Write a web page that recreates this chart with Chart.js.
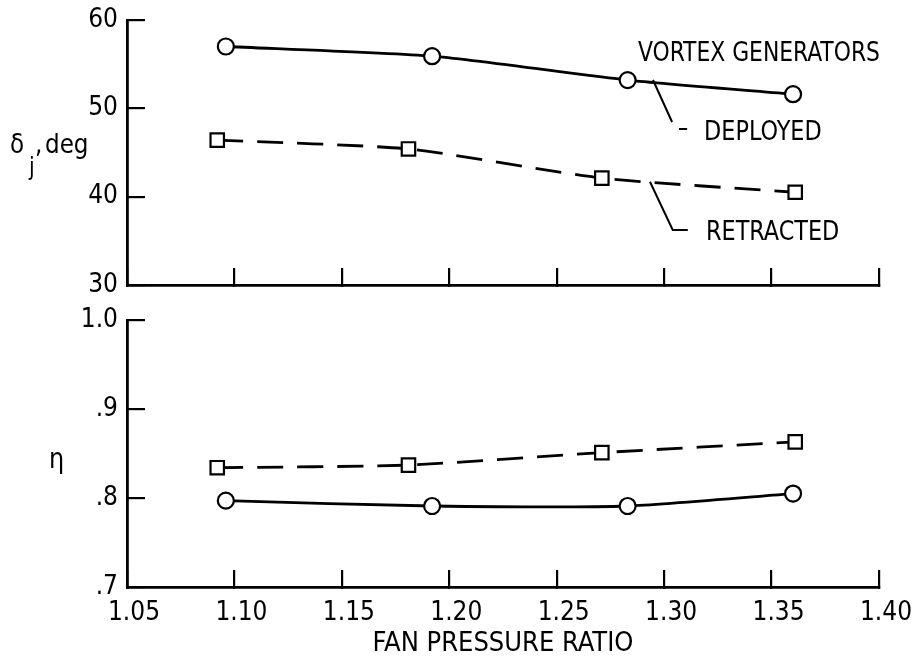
<!DOCTYPE html>
<html>
<head>
<meta charset="utf-8">
<script src="https://cdn.jsdelivr.net/npm/chart.js@4.4.1/dist/chart.umd.min.js"></script>
<style>
html,body{margin:0;padding:0;background:#fff;}
#wrap{position:relative;width:915px;height:657px;overflow:hidden;}
.pane{position:absolute;left:0;width:915px;}
</style>
</head>
<body>
<div id="wrap">
  <div class="pane" style="top:0;height:300px"><canvas id="topChart" width="915" height="300"></canvas></div>
  <div class="pane" style="top:300px;height:357px"><canvas id="botChart" width="915" height="357"></canvas></div>
</div>
<script>
// ---- data ----
const deployedX = [1.096, 1.192, 1.283, 1.360];
const retractedX = [1.092, 1.181, 1.271, 1.361];
const deployedDelta = [57.0, 55.9, 53.2, 51.6];
const retractedDelta = [46.4, 45.4, 42.1, 40.5];
const deployedEta = [0.797, 0.791, 0.791, 0.805];
const retractedEta = [0.834, 0.837, 0.851, 0.863];
const xTickLabels = ['1.05','1.10','1.15','1.20','1.25','1.30','1.35','1.40'];
const deltaTickLabels = ['30','40','50','60'];
const etaTickLabels = ['.7','.8','.9','1.0'];
const xTitle = 'FAN PRESSURE RATIO';
const seriesNames = ['DEPLOYED','RETRACTED'];
const groupTitle = 'VORTEX GENERATORS';

const FONT = "'Liberation Sans Narrow','DejaVu Sans Condensed','Arial Narrow',sans-serif";
const BLACK = '#000';

function pts(xs, ys){ return xs.map((x,i)=>({x:x, y:ys[i]})); }

function lineDataset(label, data, dashed){
  return {
    label: label,
    data: data,
    borderColor: BLACK,
    borderWidth: 2.8,
    borderDash: dashed ? [26,14] : [],
    tension: 0.2,
    pointStyle: dashed ? 'rect' : 'circle',
    pointRadius: dashed ? 9.5 : 8,
    pointBackgroundColor: '#fff',
    pointBorderColor: BLACK,
    pointBorderWidth: 2.2,
    fill: false
  };
}

function zeroPad(s){ s.paddingLeft = 0; s.paddingRight = 0; s.paddingTop = 0; s.paddingBottom = 0; }

function xScale(showLabels){
  return {
    type: 'linear', position: 'bottom', min: 1.05, max: 1.40,
    border: {display: true, color: BLACK, width: 2.8},
    grid: {display: true, drawOnChartArea: false, drawTicks: true, tickLength: -17, color: BLACK, lineWidth: 2.2},
    ticks: {
      display: showLabels, stepSize: 0.05, color: BLACK, padding: 28, labelOffset: 7,
      maxRotation: 0, autoSkip: false,
      font: {family: FONT, size: 26},
      callback: function(v){ const i = Math.round((v-1.05)/0.05); return xTickLabels[i]; }
    },
    title: {display: showLabels, text: xTitle, color: BLACK, font: {family: FONT, size: 27, lineHeight: 1}, padding: {top: 0, bottom: 0}},
    afterFit: function(s){ s.height = showLabels ? 70 : 15; zeroPad(s); }
  };
}

function yScale(min, max, step, labels){
  return {
    type: 'linear', position: 'left', min: min, max: max,
    border: {display: true, color: BLACK, width: 2.8},
    grid: {display: true, drawOnChartArea: false, drawTicks: true, tickLength: -18, color: BLACK, lineWidth: 2.2},
    ticks: {
      stepSize: step, color: BLACK, padding: 27,
      font: {family: FONT, size: 26},
      callback: function(v){ const i = Math.round((v-min)/step); return labels[i]; }
    },
    afterFit: function(s){ s.width = 127; zeroPad(s); }
  };
}

function narrowText(ctx, text, x, y, size, sx){
  ctx.save();
  ctx.font = size + 'px ' + FONT;
  ctx.translate(x, y);
  ctx.scale(sx, 1);
  ctx.fillText(text, 0, 0);
  ctx.restore();
}

const topAnnot = {
  id: 'topAnnot',
  afterDraw(chart){
    const ctx = chart.ctx, xs = chart.scales.x, ys = chart.scales.y;
    const P = (x,y)=>[xs.getPixelForValue(x), ys.getPixelForValue(y)];
    ctx.save();
    ctx.fillStyle = BLACK; ctx.strokeStyle = BLACK;
    ctx.textBaseline = 'alphabetic'; ctx.textAlign = 'left';
    let p = P(1.2878, 55.36); narrowText(ctx, groupTitle, p[0], p[1], 27, 0.9);
    p = P(1.3186, 46.42); narrowText(ctx, seriesNames[0], p[0], p[1], 27, 0.92);
    p = P(1.3195, 35.09); narrowText(ctx, seriesNames[1], p[0], p[1], 27, 0.92);
    ctx.lineWidth = 2;
    ctx.beginPath();
    let a = P(1.2948, 53.21), b = P(1.3037, 48.45);
    ctx.moveTo(a[0], a[1]); ctx.lineTo(b[0], b[1]);
    a = P(1.3069, 47.66); b = P(1.3107, 47.66);
    ctx.moveTo(a[0], a[1]); ctx.lineTo(b[0], b[1]);
    a = P(1.2934, 41.69); b = P(1.304, 36.23); let c = P(1.311, 36.23);
    ctx.moveTo(a[0], a[1]); ctx.lineTo(b[0], b[1]); ctx.lineTo(c[0], c[1]);
    ctx.stroke();
    // y-axis title  δ_j, deg
    narrowText(ctx, '\u03b4', 10, 153, 27, 0.95);
    narrowText(ctx, 'j', 29, 175, 24, 0.95);
    narrowText(ctx, ',', 35, 153, 27, 0.95);
    narrowText(ctx, 'deg', 45, 153, 27, 0.95);
    ctx.restore();
  }
};

const botAnnot = {
  id: 'botAnnot',
  afterDraw(chart){
    const ctx = chart.ctx;
    ctx.save();
    ctx.fillStyle = BLACK;
    ctx.textBaseline = 'alphabetic'; ctx.textAlign = 'left';
    narrowText(ctx, '\u03b7', 49, 168, 28, 0.95);
    ctx.restore();
  }
};

const common = {
  responsive: false, animation: false,
  plugins: {legend: {display: false}, tooltip: {enabled: false}},
  layout: {padding: {top: 20, right: 36, left: 0, bottom: 0}}
};

new Chart(document.getElementById('topChart'), {
  type: 'line',
  data: {datasets: [
    lineDataset(seriesNames[0], pts(deployedX, deployedDelta), false),
    lineDataset(seriesNames[1], pts(retractedX, retractedDelta), true)
  ]},
  options: Object.assign({}, common, {
    scales: {x: xScale(false), y: yScale(30, 60, 10, deltaTickLabels)}
  }),
  plugins: [topAnnot]
});

new Chart(document.getElementById('botChart'), {
  type: 'line',
  data: {datasets: [
    lineDataset(seriesNames[0], pts(deployedX, deployedEta), false),
    lineDataset(seriesNames[1], pts(retractedX, retractedEta), true)
  ]},
  options: Object.assign({}, common, {
    scales: {x: xScale(true), y: yScale(0.7, 1.0, 0.1, etaTickLabels)}
  }),
  plugins: [botAnnot]
});
</script>
</body>
</html>
